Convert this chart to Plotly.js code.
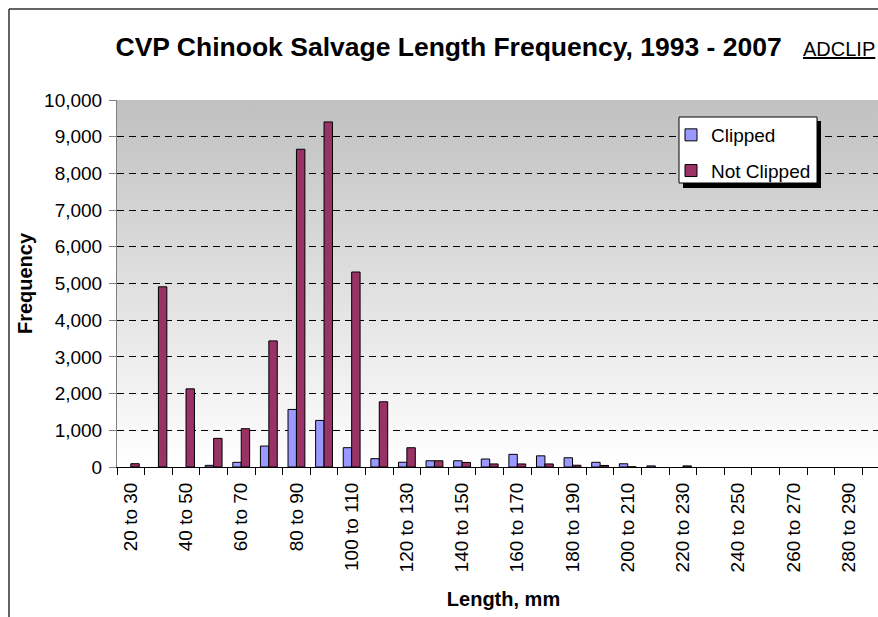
<!DOCTYPE html>
<html>
<head>
<meta charset="utf-8">
<script src="https://cdn.plot.ly/plotly-3.0.1.min.js"></script>
<style>
html, body { margin: 0; padding: 0; overflow: hidden; background: #fff; }
#chart { width: 890px; height: 617px; }
</style>
</head>
<body>
<div id="chart"></div>
<script>
const categories = ['20 to 30','30 to 40','40 to 50','50 to 60','60 to 70','70 to 80','80 to 90','90 to 100',
  '100 to 110','110 to 120','120 to 130','130 to 140','140 to 150','150 to 160','160 to 170','170 to 180',
  '180 to 190','190 to 200','200 to 210','210 to 220','220 to 230','230 to 240','240 to 250','250 to 260',
  '260 to 270','270 to 280','280 to 290','290 to 300'];
const tickLabels = ['20 to 30','','40 to 50','','60 to 70','','80 to 90','',
  '100 to 110','','120 to 130','','140 to 150','','160 to 170','',
  '180 to 190','','200 to 210','','220 to 230','','240 to 250','',
  '260 to 270','','280 to 290',''];
const clipped =    [null, null, null, 45, 127, 571, 1568, 1269, 526, 227, 130, 170, 170, 218, 345, 304, 252, 128, 88, 30, null, null, null, null, null, null, null, null];
const notClipped = [90, 4910, 2130, 780, 1043, 3436, 8658, 9402, 5313, 1777, 525, 170, 124, 83, 83, 83, 48, 42, 5, null, 30, null, null, null, null, null, null, null];

const FONT = 'Liberation Sans, Arial, sans-serif';

const W = 890, H = 617, ML = 117, MT = 100, MB = 150;
const PW = W - ML, PH = H - MT - MB;
const px = v => (v - ML) / PW;
const py = v => (H - MB - v) / PH;

const gradSvg = '<svg xmlns="http://www.w3.org/2000/svg" width="100" height="100" preserveAspectRatio="none">' +
  '<defs><linearGradient id="g" x1="0" y1="0" x2="0" y2="1">' +
  '<stop offset="0" stop-color="#c0c0c0"/><stop offset="1" stop-color="#ffffff"/></linearGradient></defs>' +
  '<rect width="100" height="100" fill="url(#g)"/></svg>';

const traces = [
  { type: 'bar', name: 'Clipped', x: categories, y: clipped, legendgroup: 'a',
    marker: { color: '#9999ff', line: { color: '#000', width: 1 } } },
  { type: 'bar', name: 'Not Clipped', x: categories, y: notClipped, legendgroup: 'b',
    marker: { color: '#993366', line: { color: '#000', width: 1 } } }
];

const layout = {
  width: W, height: H,
  margin: { l: ML, r: 0, t: MT, b: MB, pad: 0 },
  paper_bgcolor: '#fff',
  plot_bgcolor: 'rgba(0,0,0,0)',
  font: { family: FONT, color: '#000', size: 19 },
  barmode: 'group', bargap: 0.39, bargroupgap: 0,
  title: { text: '<b>CVP Chinook Salvage Length Frequency, 1993 - 2007</b>',
    font: { family: FONT, size: 26.5, color: '#000' },
    x: 448.6 / W, xref: 'container', xanchor: 'center',
    y: 1 - 47 / H, yref: 'container', yanchor: 'middle' },
  xaxis: {
    type: 'category', categoryorder: 'array', categoryarray: categories,
    range: [-0.5, categories.length - 0.5],
    tickmode: 'array', tickvals: categories, ticktext: tickLabels,
    tickson: 'boundaries', ticks: 'outside', ticklen: 7, tickcolor: '#000', tickwidth: 1,
    tickangle: -90, tickfont: { family: FONT, size: 19 }, ticklabelstandoff: 7,
    showline: true, linecolor: '#000', linewidth: 1,
    showgrid: false, zeroline: false,
    title: { text: '<b>Length, mm</b>', font: { family: FONT, size: 20 }, standoff: 20 }
  },
  yaxis: {
    range: [0, 10000], dtick: 1000, tick0: 0, tickformat: ',d',
    ticks: 'outside', ticklen: 7, tickcolor: '#808080', tickwidth: 1,
    tickfont: { family: FONT, size: 19 }, ticklabelstandoff: 3,
    showline: true, linecolor: '#808080', linewidth: 1,
    showgrid: true, gridcolor: '#000', gridwidth: 1, griddash: '7px,5px',
    zeroline: false,
    title: { text: '<b>Frequency</b>', font: { family: FONT, size: 20 }, standoff: 6 }
  },
  legend: {
    x: px(671), y: py(116), xanchor: 'left', yanchor: 'top',
    bgcolor: 'rgba(0,0,0,0)', borderwidth: 0,
    font: { family: FONT, size: 19, color: '#000' },
    tracegroupgap: 8, itemwidth: 30
  },
  images: [{
    source: 'data:image/svg+xml;charset=utf-8,' + encodeURIComponent(gradSvg),
    xref: 'paper', yref: 'paper', x: 0, y: 1, sizex: 1, sizey: 1,
    xanchor: 'left', yanchor: 'top', sizing: 'stretch', layer: 'below'
  }],
  shapes: [
    { type: 'line', xref: 'paper', yref: 'paper', x0: px(9), x1: px(9), y0: py(9), y1: py(640),
      line: { color: '#303030', width: 1.5 } },
    { type: 'line', xref: 'paper', yref: 'paper', x0: px(9), x1: 1.05, y0: py(9), y1: py(9),
      line: { color: '#303030', width: 1.5 } },
    { type: 'rect', xref: 'paper', yref: 'paper', x0: px(683), x1: px(821), y0: py(121), y1: py(188),
      fillcolor: '#000', line: { width: 0 }, layer: 'above' },
    { type: 'rect', xref: 'paper', yref: 'paper', x0: px(679), x1: px(817), y0: py(117), y1: py(183),
      fillcolor: '#fff', line: { color: '#000', width: 1 }, layer: 'above' }
  ],
  annotations: [{
    text: '<u>ADCLIP</u>', xref: 'paper', yref: 'paper',
    x: px(801), y: py(49), xanchor: 'left', yanchor: 'middle', showarrow: false,
    font: { family: FONT, size: 20, color: '#000' }
  }]
};

Plotly.newPlot('chart', traces, layout, { displayModeBar: false, staticPlot: true });
</script>
</body>
</html>
